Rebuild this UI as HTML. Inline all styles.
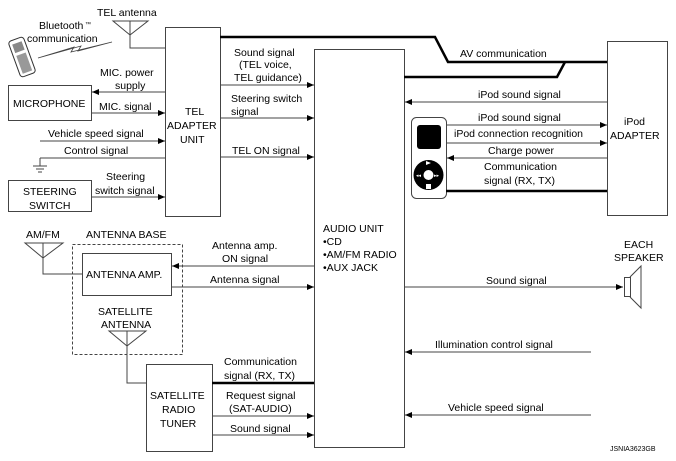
<!DOCTYPE html>
<html><head><meta charset="utf-8"><style>
html,body{margin:0;padding:0;background:#fff;}
svg{display:block;font-family:"Liberation Sans",Arial,sans-serif;font-size:10.5px;fill:#000;}
</style></head><body>
<svg width="676" height="461" viewBox="0 0 676 461" xmlns="http://www.w3.org/2000/svg">
<defs>
<marker id="a" markerWidth="8" markerHeight="8" refX="7" refY="4" orient="auto" markerUnits="userSpaceOnUse"><path d="M0,1 L7,4 L0,7z" fill="#000"/></marker>
</defs>
<g fill="none" stroke="#444" stroke-width="1">
<rect x="165.5" y="27.5" width="55" height="189"/>
<rect x="314.5" y="49.5" width="90" height="398"/>
<rect x="607.5" y="41.5" width="60" height="174"/>
<rect x="8.5" y="85.5" width="83" height="35"/>
<rect x="8.5" y="180.5" width="83" height="31"/>
<rect x="82.5" y="253.5" width="89" height="42"/>
<rect x="146.5" y="364.5" width="66" height="87"/>
<rect x="72.5" y="244.5" width="110" height="110" stroke-dasharray="3,2"/>
<path d="M113,21 L148,21 L130,35 Z M130,21 L130,48 L165,48"/>
<!-- lightning -->
<path d="M38,58 L74,47 L71,52 L112,42 L78,51 L81,46 Z" stroke-width="0.8" fill="#fff"/>
<path d="M40,158 L40,166 M33,166 L47,166 M36,169 L44,169 M38,172 L42,172"/>
<path d="M165,92 L92,92" marker-end="url(#a)"/>
<path d="M91,113 L165,113" marker-end="url(#a)"/>
<path d="M40,141 L165,141" marker-end="url(#a)"/>
<path d="M40,158 L165,158"/>
<path d="M91,197 L165,197" marker-end="url(#a)"/>
<path d="M220,85 L314,85" marker-end="url(#a)"/>
<path d="M220,118 L314,118" marker-end="url(#a)"/>
<path d="M220,157 L314,157" marker-end="url(#a)"/>
<path d="M607,102 L405,102" marker-end="url(#a)"/>
<path d="M446,125 L607,125" marker-end="url(#a)"/>
<path d="M446,143 L607,143" marker-end="url(#a)"/>
<path d="M607,158 L447,158" marker-end="url(#a)"/>
<rect x="411.5" y="117.5" width="35" height="81" rx="5"/>
<path d="M25,243 L63,243 L43,258 Z M43,243 L43,274 L82,274"/>
<path d="M314,266 L172,266" marker-end="url(#a)"/>
<path d="M171,287 L314,287" marker-end="url(#a)"/>
<path d="M109,331 L146,331 L127,346 Z M127,331 L127,383 L146,383"/>
<path d="M212,416 L314,416" marker-end="url(#a)"/>
<path d="M212,435 L314,435" marker-end="url(#a)"/>
<path d="M404,287 L623,287" marker-end="url(#a)"/>
<rect x="624.5" y="277.5" width="6" height="19"/>
<path d="M630,277 L641,266 L641,308 L630,297"/>
<path d="M591,352 L405,352" marker-end="url(#a)"/>
<path d="M591,415 L405,415" marker-end="url(#a)"/>
</g>
<g fill="none" stroke="#000" stroke-width="2.5">
<path d="M220,37 L435,37 L448,62 L607,62"/>
<path d="M404,77 L557,77 L565,62"/>
<path d="M446,191 L607,191"/>
<path d="M212,383 L314,383"/>
</g>
<g transform="rotate(-20 22 57)">
<rect x="14" y="38" width="16" height="38" rx="3" fill="#fff" stroke="#333"/>
<rect x="17" y="42" width="10" height="9" fill="#888"/>
<rect x="17" y="54" width="10" height="19" fill="#999"/>
</g>
<rect x="417" y="125" width="24" height="24" rx="3" fill="#000"/>
<circle cx="428.5" cy="175" r="15" fill="#000"/>
<circle cx="428.5" cy="175" r="5" fill="#fff"/>
<path d="M426,161 L431,163 L426,165z" fill="#fff"/>
<rect x="426" y="184" width="5" height="5" fill="#fff"/>
<text x="416" y="177" font-size="5" fill="#fff">◂◂</text>
<text x="434" y="177" font-size="5" fill="#fff">▸▸</text>
<text x="97" y="16">TEL antenna</text>
<text x="39" y="29">Bluetooth<tspan font-size="6" dy="-3"> ™</tspan></text>
<text x="27" y="42">communication</text>
<text x="100" y="76">MIC. power</text>
<text x="115" y="89">supply</text>
<text x="13" y="107">MICROPHONE</text>
<text x="99" y="110">MIC. signal</text>
<text x="48" y="137">Vehicle speed signal</text>
<text x="64" y="154">Control signal</text>
<text x="106" y="180">Steering</text>
<text x="95" y="194">switch signal</text>
<text x="23" y="195">STEERING</text>
<text x="29" y="209">SWITCH</text>
<text x="185" y="115">TEL</text>
<text x="167" y="129">ADAPTER</text>
<text x="180" y="143">UNIT</text>
<text x="234" y="56">Sound signal</text>
<text x="239" y="68">(TEL voice,</text>
<text x="234" y="81">TEL guidance)</text>
<text x="231" y="102">Steering switch</text>
<text x="231" y="115">signal</text>
<text x="232" y="154">TEL ON signal</text>
<text x="460" y="57">AV communication</text>
<text x="478" y="98">iPod sound signal</text>
<text x="478" y="121">iPod sound signal</text>
<text x="454" y="137">iPod connection recognition</text>
<text x="488" y="154">Charge power</text>
<text x="484" y="170">Communication</text>
<text x="484" y="184">signal (RX, TX)</text>
<text x="624" y="125">iPod</text>
<text x="610" y="139">ADAPTER</text>
<text x="323" y="232">AUDIO UNIT</text>
<text x="323" y="245">•CD</text>
<text x="323" y="258">•AM/FM RADIO</text>
<text x="323" y="271">•AUX JACK</text>
<text x="624" y="248">EACH</text>
<text x="614" y="261">SPEAKER</text>
<text x="486" y="284">Sound signal</text>
<text x="435" y="348">Illumination control signal</text>
<text x="448" y="411">Vehicle speed signal</text>
<text x="26" y="238">AM/FM</text>
<text x="86" y="238">ANTENNA BASE</text>
<text x="86" y="278">ANTENNA AMP.</text>
<text x="212" y="249">Antenna amp.</text>
<text x="222" y="262">ON signal</text>
<text x="210" y="283">Antenna signal</text>
<text x="98" y="315">SATELLITE</text>
<text x="101" y="328">ANTENNA</text>
<text x="224" y="365">Communication</text>
<text x="224" y="379">signal (RX, TX)</text>
<text x="226" y="399">Request signal</text>
<text x="229" y="412">(SAT-AUDIO)</text>
<text x="230" y="432">Sound signal</text>
<text x="150" y="399">SATELLITE</text>
<text x="162" y="413">RADIO</text>
<text x="160" y="427">TUNER</text>
<text x="610" y="451" font-size="7">JSNIA3623GB</text>
</svg>
</body></html>
